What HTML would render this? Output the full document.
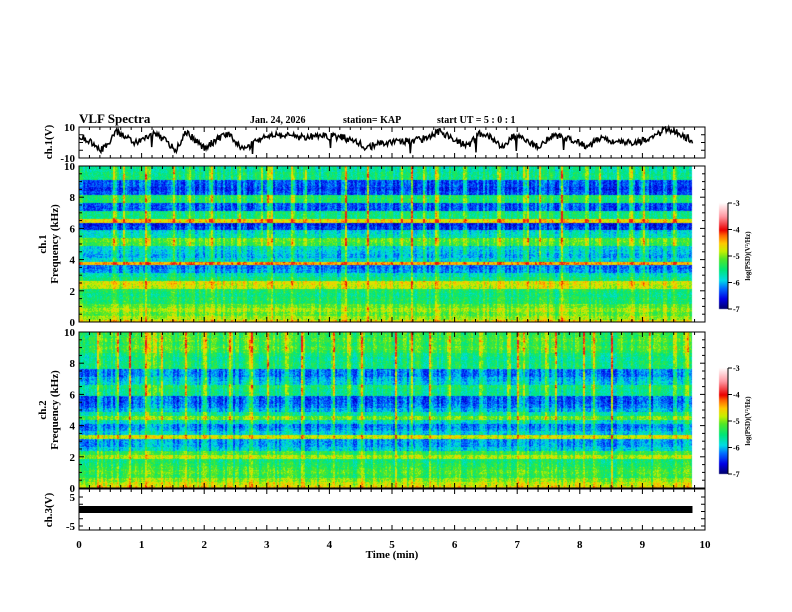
<!DOCTYPE html>
<html><head><meta charset="utf-8">
<style>
html,body{margin:0;padding:0;background:#fff;}
#wrap{position:relative;width:792px;height:612px;overflow:hidden;font-family:"Liberation Serif",serif;}
canvas{position:absolute;left:0;top:0;}
svg{position:absolute;left:0;top:0;}
text{font-family:"Liberation Serif",serif;font-weight:bold;fill:#000;}
</style></head>
<body>
<div id="wrap">
<canvas id="cv" width="792" height="612"></canvas>
<svg id="sv" width="792" height="612"></svg>
</div>
<script>
// ---- data ----
const waveTimes = [0,0.2,0.35,0.5,0.6,0.8,0.9,1.1,1.2,1.4,1.55,1.7,1.85,2.0,2.2,2.35,2.5,2.65,2.85,3.05,3.3,3.6,3.9,4.2,4.4,4.6,4.8,5.0,5.2,5.4,5.6,5.75,6.0,6.2,6.4,6.6,6.75,6.95,7.15,7.35,7.55,7.75,7.95,8.15,8.35,8.55,8.8,9.0,9.2,9.35,9.5,9.65,9.8];
const waveVolts = [4.8,-0.3,-5,1.6,6.8,2.9,-0.3,3.5,6,1,-5,7.4,1.6,-3.5,1.6,6,1,-5,1.6,5.5,4.2,3.5,4.2,3.5,1,-3.5,-0.3,0.3,1,1.6,3.5,7.4,1.6,-2.3,5.5,2.9,-2.9,4.8,1.6,-3.5,4.8,2.9,0.3,-2.9,4.2,0.3,-0.3,1,3.5,8.7,8,4.2,1.6];
// log PSD per 0.25 kHz band, 0..10 kHz (41 values)
const ch1Bands = [-4.6,-4.9,-5.1,-4.9,-5.1,-5.4,-5.4,-5.5,-5.4,-4.8,-4.7,-5.5,-5.7,-6.1,-6.2,-4.4,-5.8,-6.0,-5.9,-5.8,-5.2,-5.1,-5.7,-5.8,-6.4,-6.5,-4.6,-5.5,-5.5,-6.3,-6.3,-5.4,-5.4,-6.3,-6.4,-6.3,-6.3,-5.5,-5.5,-5.6,-5.6];
const ch2Bands = [-4.6,-4.8,-5.0,-5.3,-5.2,-5.3,-5.4,-5.5,-4.9,-5.3,-5.9,-6.1,-6.1,-4.8,-5.9,-6.1,-6.2,-5.8,-5.1,-5.6,-6.0,-6.2,-6.3,-6.3,-5.6,-5.6,-5.5,-5.9,-6.0,-6.2,-6.2,-5.5,-5.5,-5.6,-5.5,-5.3,-5.2,-5.3,-5.2,-5.3,-5.3];
const ch1Bursts = [0.55,0.7,1.05,1.1,1.5,1.75,2.1,2.55,2.9,3.0,3.05,3.4,3.6,4.25,4.6,5.15,5.3,5.5,5.7,6.15,6.7,7.1,7.15,7.35,7.7,8.1,8.3,8.6,8.8,9.0,9.5];
const ch2Bursts = [0.3,0.6,0.8,1.05,1.1,1.2,1.3,1.7,2.0,2.4,2.7,2.75,3.0,3.3,3.55,4.05,4.3,4.5,5.05,5.3,5.6,5.9,6.4,6.85,7.0,7.1,7.45,7.6,8.05,8.2,8.5,9.1,9.5,9.7];
const timeTicks = [0,1,2,3,4,5,6,7,8,9,10];
const freqTicks = [0,2,4,6,8,10];
const cbTicks = [-3,-4,-5,-6,-7];

// ---- geometry ----
const X0=79, X1=705, DATA_END=9.8;
const xs = t => X0 + t*(X1-X0)/10;
const P1={top:127,bot:158}, S1={top:166,bot:322}, S2={top:332,bot:488}, P3={top:489,bot:530};
const ns="http://www.w3.org/2000/svg";
const sv=document.getElementById('sv');
function el(tag,attrs,txt){const e=document.createElementNS(ns,tag);for(const k in attrs)e.setAttribute(k,attrs[k]);if(txt!==undefined)e.textContent=txt;sv.appendChild(e);return e;}
function hash(a,b){let h=(a*374761393+b*668265263)|0;h=(h^(h>>>13))*1274126177|0;return ((h^(h>>>16))>>>0)/4294967296;}

// ---- colormap ----
const stops=[[-7,0,0,100],[-6.6,0,0,230],[-6.2,0,110,255],[-5.9,0,220,230],[-5.5,0,230,120],[-5.1,80,230,40],[-4.8,200,240,0],[-4.5,255,200,0],[-4.2,255,100,0],[-4.0,235,0,0],[-3.5,255,150,160],[-3.0,255,250,250]];
function cmap(v){v=Math.max(-7,Math.min(-3,v));for(let i=0;i<stops.length-1;i++){const a=stops[i],b=stops[i+1];if(v<=b[0]){const f=(v-a[0])/(b[0]-a[0]);return [a[1]+f*(b[1]-a[1]),a[2]+f*(b[2]-a[2]),a[3]+f*(b[3]-a[3])];}}return [255,250,250];}

const cv=document.getElementById('cv');const ctx=cv.getContext('2d');
function drawSpec(S,bands,bursts,seed){
  const w=Math.round(xs(DATA_END)-X0), h=S.bot-S.top;
  const img=ctx.createImageData(w,h);
  const colW=2, ncol=Math.ceil(w/colW);
  const colN=[];
  for(let c=0;c<ncol;c++){
    const t=(c*colW)/(X1-X0)*10;
    let b=0;
    for(const bt of bursts){const d=Math.abs(t-bt);if(d<0.03)b=Math.max(b,1.1*(1-d/0.03)+0.25);}
    colN.push({n:(hash(c,seed)-0.5)*0.5,b:b});
  }
  for(let y=0;y<h;y++){
    const f=10*(1-(y+0.5)/h);
    const bi=Math.min(40,Math.max(0,Math.round(f/0.25)));
    const base=bands[bi];
    for(let x=0;x<w;x++){
      const c=Math.floor(x/colW);
      const cn=colN[c];
      let v=base+cn.n+(hash(x*7+seed,y*13)-0.5)*0.5;
      if(cn.b>0){v+=cn.b*(0.3+0.7*Math.min(1,Math.max(0,(f-2)/4)))*(0.6+0.5*hash(c,y>>2));}
      v=Math.min(v,-3.9);
      const rgb=cmap(v);const i=(y*w+x)*4;
      img.data[i]=rgb[0];img.data[i+1]=rgb[1];img.data[i+2]=rgb[2];img.data[i+3]=255;
    }
  }
  ctx.putImageData(img,X0,S.top);
}
drawSpec(S1,ch1Bands,ch1Bursts,11);
drawSpec(S2,ch2Bands,ch2Bursts,29);

// colorbars
function drawCB(top,bot){
  for(let y=top;y<bot;y++){const v=-3-4*(y-top)/(bot-top);const c=cmap(v);ctx.fillStyle=`rgb(${c[0]|0},${c[1]|0},${c[2]|0})`;ctx.fillRect(719,y,9,1);}
}
drawCB(203,309);drawCB(368,474);

// ---- axes frames ----
function frame(P,name){
  el('rect',{x:X0,y:P.top,width:X1-X0,height:P.bot-P.top,fill:'none',stroke:'#000','stroke-width':1,});
  for(let s=0;s<=60;s++){const x=X0+s*(X1-X0)/60;const L=(s%6===0)?5:3;
    el('line',{x1:x,x2:x,y1:P.top,y2:P.top+L,stroke:'#000'});
    el('line',{x1:x,x2:x,y1:P.bot,y2:P.bot-L,stroke:'#000'});}
}
frame(P1,'ch1-waveform-frame');frame(S1,'ch1-spectrogram-frame');frame(S2,'ch2-spectrogram-frame');frame(P3,'ch3-waveform-frame');

// freq ticks
function freqAxis(S,name){
  const ys=f=>S.bot-(S.bot-S.top)*f/10;
  for(let f=0;f<=10;f+=0.5){const y=ys(f);const L=(f%2===0)?5:3;
    el('line',{x1:X0,x2:X0+L,y1:y,y2:y,stroke:'#000'});el('line',{x1:X1,x2:X1-L,y1:y,y2:y,stroke:'#000'});}
  for(const f of freqTicks){const t=el('text',{x:X0-4,y:ys(f)+4,'text-anchor':'end','font-size':11},String(f));
    }
}
freqAxis(S1,'ch1-freq');freqAxis(S2,'ch2-freq');

// waveform y ticks
function vAxis(P,labs,ys){
  for(const y of ys){el('line',{x1:X0,x2:X0+4,y1:y,y2:y,stroke:'#000'});el('line',{x1:X1,x2:X1-4,y1:y,y2:y,stroke:'#000'});}
  el('text',{x:X0-4,y:ys[0]+4,'text-anchor':'end','font-size':11},labs[0]);
  el('text',{x:X0-4,y:ys[ys.length-1]+4,'text-anchor':'end','font-size':11},labs[1]);
}
vAxis(P1,['10','-10'],[127,134.75,142.5,150.25,158]);
vAxis(P3,['5','-5'],[497,504.25,511.5,518.75,526]);

// ch1 waveform
(function(){
  const ys=v=>(P1.top+P1.bot)/2-v*(P1.bot-P1.top)/20;
  let d='';const N=700;
  for(let k=0;k<=N;k++){const t=DATA_END*k/N;
    let i=0;while(i<waveTimes.length-2&&waveTimes[i+1]<t)i++;
    const f=(t-waveTimes[i])/(waveTimes[i+1]-waveTimes[i]);
    let v=waveVolts[i]+f*(waveVolts[i+1]-waveVolts[i]);
    v+=(hash(k,5)-0.5)*4.5;
    if(hash(k,9)>0.985)v-=8;
    v=Math.max(-10,Math.min(10,v));
    d+=(k?'L':'M')+xs(t).toFixed(1)+','+ys(v).toFixed(1);}
  el('path',{d:d,fill:'none',stroke:'#000','stroke-width':1.5,});
})();
// ch3 band
el('rect',{x:X0,y:506,width:xs(DATA_END)-X0,height:7,fill:'#000',});

// x tick labels
for(const t of timeTicks){const e=el('text',{x:xs(t),y:548,'text-anchor':'middle','font-size':11},String(t));
  }
el('text',{x:392,y:558,'text-anchor':'middle','font-size':11,},'Time  (min)');

// titles
el('text',{x:79,y:123,'font-size':13,},'VLF Spectra');
el('text',{x:250,y:123,'font-size':10,},'Jan. 24, 2026');
el('text',{x:343,y:123,'font-size':10,},'station= KAP');
el('text',{x:437,y:123,'font-size':10,},'start  UT =   5 : 0 : 1');

// y titles
function vt(x,y,s,name,fs){el('text',{x:x,y:y,'text-anchor':'middle','font-size':fs||11,transform:`rotate(-90 ${x} ${y})`,},s);}
vt(52,142,'ch.1(V)','ch1-y-title');
vt(46,244,'ch.1','ch1-spec-y-title-a');vt(58,244,'Frequency (kHz)','ch1-spec-y-title-b');
vt(46,410,'ch.2','ch2-spec-y-title-a');vt(58,410,'Frequency (kHz)','ch2-spec-y-title-b');
vt(52,510,'ch.3(V)','ch3-y-title');

// colorbar axes
function cbAxis(top,bot,name){
  el('rect',{x:719,y:top,width:9,height:bot-top,fill:'none',stroke:'none',});
  el('line',{x1:728,x2:728,y1:top,y2:bot,stroke:'#000'});
  cbTicks.forEach(v=>{const y=top+(-3-v)/4*(bot-top);
    el('line',{x1:728,x2:732,y1:y,y2:y,stroke:'#000'});
    el('text',{x:733,y:y+3,'font-size':8},String(v));});
  vt(750,(top+bot)/2,'log(PSD)(V²/Hz)',name+'-title',7);
}
cbAxis(203,309,'ch1-colorbar');cbAxis(368,474,'ch2-colorbar');
</script>
</body></html>
